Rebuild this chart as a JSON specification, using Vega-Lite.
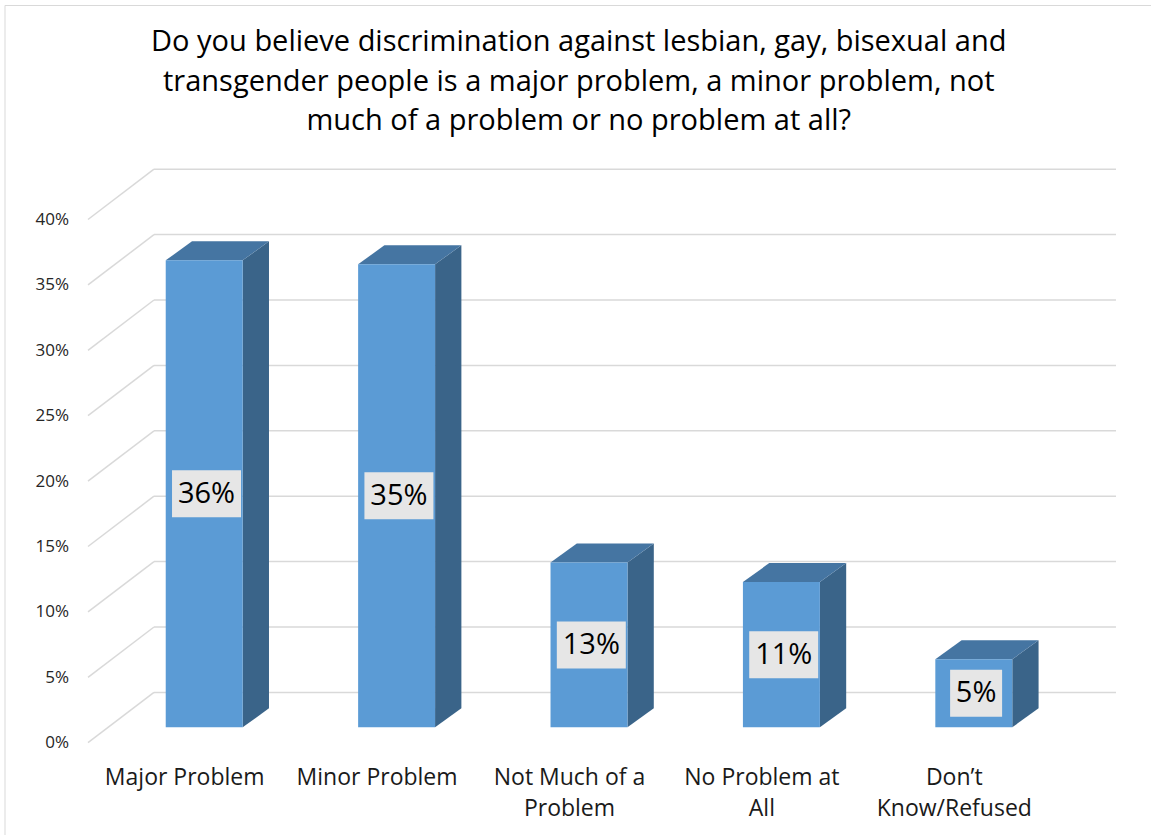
{
  "$schema": "https://vega.github.io/schema/vega-lite/v6.json",
  "width": 1146.5,
  "height": 830,
  "padding": {"left": 4.5, "top": 5, "right": 0, "bottom": 0},
  "autosize": {"type": "none"},
  "background": "white",
  "config": {
    "view": {"stroke": "#d9d9d9", "strokeWidth": 1, "strokeDash": [1146.5, 1976.5, 830]}
  },
  "title": {
    "text": [
      "Do you believe discrimination against lesbian, gay, bisexual and",
      "transgender people is a major problem, a minor problem, not",
      "much of a problem or no problem at all?"
    ],
    "font": "Open Sans",
    "fontSize": 29,
    "fontWeight": "normal",
    "color": "#000000",
    "lineHeight": 39.5,
    "anchor": "middle",
    "frame": "group",
    "baseline": "top",
    "offset": 0,
    "dy": 131,
    "dx": 1
  },
  "datasets": {
    "answers": [
      {"answer": "Major Problem", "pct": 0.357},
      {"answer": "Minor Problem", "pct": 0.354},
      {"answer": "Not Much of a Problem", "pct": 0.126},
      {"answer": "No Problem at All", "pct": 0.111},
      {"answer": "Don’t Know/Refused", "pct": 0.052}
    ],
    "ticks": [
      {"t": 0}, {"t": 0.05}, {"t": 0.1}, {"t": 0.15}, {"t": 0.2},
      {"t": 0.25}, {"t": 0.3}, {"t": 0.35}, {"t": 0.4}
    ]
  },
  "resolve": {"axis": {"x": "independent", "y": "independent"}},
  "layer": [
    {
      "data": {"name": "ticks"},
      "transform": [{"calculate": "datum.t + 0.03846", "as": "yb"}],
      "mark": {"type": "rule", "color": "#d9d9d9", "strokeWidth": 1.5},
      "encoding": {
        "x": {"datum": 0.343, "type": "quantitative", "scale": {"domain": [-0.434, 5.525], "nice": false, "zero": false}, "axis": null},
        "x2": {"datum": 5.343},
        "y": {"field": "yb", "type": "quantitative", "scale": {"domain": [-0.07057, 0.564], "nice": false, "zero": false}, "axis": null}
      }
    },
    {
      "data": {"name": "ticks"},
      "transform": [{"calculate": "datum.t + 0.03846", "as": "yb"}],
      "mark": {"type": "rule", "color": "#d9d9d9", "strokeWidth": 1.5},
      "encoding": {
        "x": {"datum": 0, "type": "quantitative", "scale": {"domain": [-0.434, 5.525], "nice": false, "zero": false}, "axis": null},
        "x2": {"datum": 0.343},
        "y": {"field": "t", "type": "quantitative", "scale": {"domain": [-0.07057, 0.564], "nice": false, "zero": false}, "axis": null},
        "y2": {"field": "yb"}
      }
    },
    {
      "data": {"name": "answers"},
      "transform": [
        {"window": [{"op": "row_number", "as": "idx"}]},
        {"calculate": "datum.idx - 0.5", "as": "c"},
        {"calculate": "[0, 1]", "as": "ks"},
        {"flatten": ["ks"], "as": ["k"]},
        {"calculate": "datum.c + 0.304 + datum.k * 0.1367", "as": "xs"},
        {"calculate": "0.01177 + datum.k * 0.01453", "as": "ylo"},
        {"calculate": "datum.pct + datum.ylo", "as": "yhi"}
      ],
      "mark": {"type": "area", "color": "#3a6489", "orient": "vertical"},
      "encoding": {
        "x": {"field": "xs", "type": "quantitative", "scale": {"domain": [-0.434, 5.525], "nice": false, "zero": false}, "axis": null},
        "y": {"field": "ylo", "type": "quantitative", "scale": {"domain": [-0.07057, 0.564], "nice": false, "zero": false}, "axis": null},
        "y2": {"field": "yhi"},
        "detail": {"field": "answer"}
      }
    },
    {
      "data": {"name": "answers"},
      "transform": [
        {"window": [{"op": "row_number", "as": "idx"}]},
        {"calculate": "datum.idx - 0.5", "as": "c"},
        {"calculate": "[0, 1]", "as": "ks"},
        {"flatten": ["ks"], "as": ["k"]},
        {"calculate": "datum.c - 0.096 + datum.k * 0.1367", "as": "xl"},
        {"calculate": "datum.xl + 0.4", "as": "xr"},
        {"calculate": "datum.pct + 0.01177 + datum.k * 0.01453", "as": "yt"}
      ],
      "mark": {"type": "area", "color": "#4575a2", "orient": "horizontal"},
      "encoding": {
        "y": {"field": "yt", "type": "quantitative", "scale": {"domain": [-0.07057, 0.564], "nice": false, "zero": false}, "axis": null},
        "x": {"field": "xl", "type": "quantitative", "scale": {"domain": [-0.434, 5.525], "nice": false, "zero": false}, "axis": null},
        "x2": {"field": "xr"},
        "detail": {"field": "answer"}
      }
    },
    {
      "data": {"name": "answers"},
      "transform": [
        {"window": [{"op": "row_number", "as": "idx"}]},
        {"calculate": "datum.idx - 0.5", "as": "c"},
        {"calculate": "datum.c - 0.096", "as": "x0"},
        {"calculate": "datum.c + 0.304", "as": "x1"},
        {"calculate": "0.01177", "as": "y0"},
        {"calculate": "datum.pct + 0.01177", "as": "y1"}
      ],
      "mark": {"type": "rect", "color": "#5b9bd5"},
      "encoding": {
        "x": {
          "field": "x0", "type": "quantitative",
          "scale": {"domain": [-0.434, 5.525], "nice": false, "zero": false},
          "axis": {
            "values": [0.5, 1.5, 2.5, 3.5, 4.5],
            "labelExpr": "[['Major Problem'],['Minor Problem'],['Not Much of a','Problem'],['No Problem at','All'],['Don’t','Know/Refused']][round(datum.value - 0.5)]",
            "title": null, "domain": false, "ticks": false, "tickSize": 0, "grid": false,
            "labelFont": "Open Sans", "labelFontSize": 23, "labelColor": "#1a1a1a",
            "labelLineHeight": 31.5, "labelPadding": 0, "offset": -69,
            "labelOverlap": false, "labelBound": false, "labelFlush": false, "labelBaseline": "top"
          }
        },
        "x2": {"field": "x1"},
        "y": {
          "field": "y0", "type": "quantitative",
          "scale": {"domain": [-0.07057, 0.564], "nice": false, "zero": false},
          "axis": {
            "values": [0, 0.05, 0.1, 0.15, 0.2, 0.25, 0.3, 0.35, 0.4],
            "format": ".0%",
            "title": null, "domain": false, "ticks": false, "tickSize": 0, "grid": false,
            "labelFont": "Open Sans", "labelFontSize": 17, "labelColor": "#262626",
            "labelPadding": 2, "offset": -66, "labelOverlap": false, "labelBound": false, "labelFlush": false
          }
        },
        "y2": {"field": "y1"}
      }
    },
    {
      "data": {"name": "answers"},
      "transform": [
        {"window": [{"op": "row_number", "as": "idx"}]},
        {"calculate": "datum.idx - 0.5", "as": "c"},
        {"calculate": "datum.c + 0.116", "as": "cx"},
        {"calculate": "datum.pct < 0.095 ? 0.1351 : 0.1793", "as": "hw"},
        {"calculate": "datum.cx - datum.hw", "as": "bx0"},
        {"calculate": "datum.cx + datum.hw", "as": "bx1"},
        {"calculate": "datum.pct / 2 + 0.01177", "as": "ym"}
      ],
      "mark": {"type": "rect", "color": "#e6e6e6", "yOffset": -23.5, "y2Offset": 23.5},
      "encoding": {
        "x": {"field": "bx0", "type": "quantitative", "scale": {"domain": [-0.434, 5.525], "nice": false, "zero": false}, "axis": null},
        "x2": {"field": "bx1"},
        "y": {"field": "ym", "type": "quantitative", "scale": {"domain": [-0.07057, 0.564], "nice": false, "zero": false}, "axis": null},
        "y2": {"field": "ym"}
      }
    },
    {
      "data": {"name": "answers"},
      "transform": [
        {"window": [{"op": "row_number", "as": "idx"}]},
        {"calculate": "datum.idx - 0.5", "as": "c"},
        {"calculate": "datum.c + 0.116", "as": "cx"},
        {"calculate": "datum.pct / 2 + 0.01177", "as": "ym"}
      ],
      "mark": {"type": "text", "font": "Open Sans", "fontSize": 29, "color": "#000000", "align": "center", "baseline": "middle"},
      "encoding": {
        "x": {"field": "cx", "type": "quantitative", "scale": {"domain": [-0.434, 5.525], "nice": false, "zero": false}, "axis": null},
        "y": {"field": "ym", "type": "quantitative", "scale": {"domain": [-0.07057, 0.564], "nice": false, "zero": false}, "axis": null},
        "text": {"field": "pct", "type": "quantitative", "format": ".0%"}
      }
    }
  ]
}
